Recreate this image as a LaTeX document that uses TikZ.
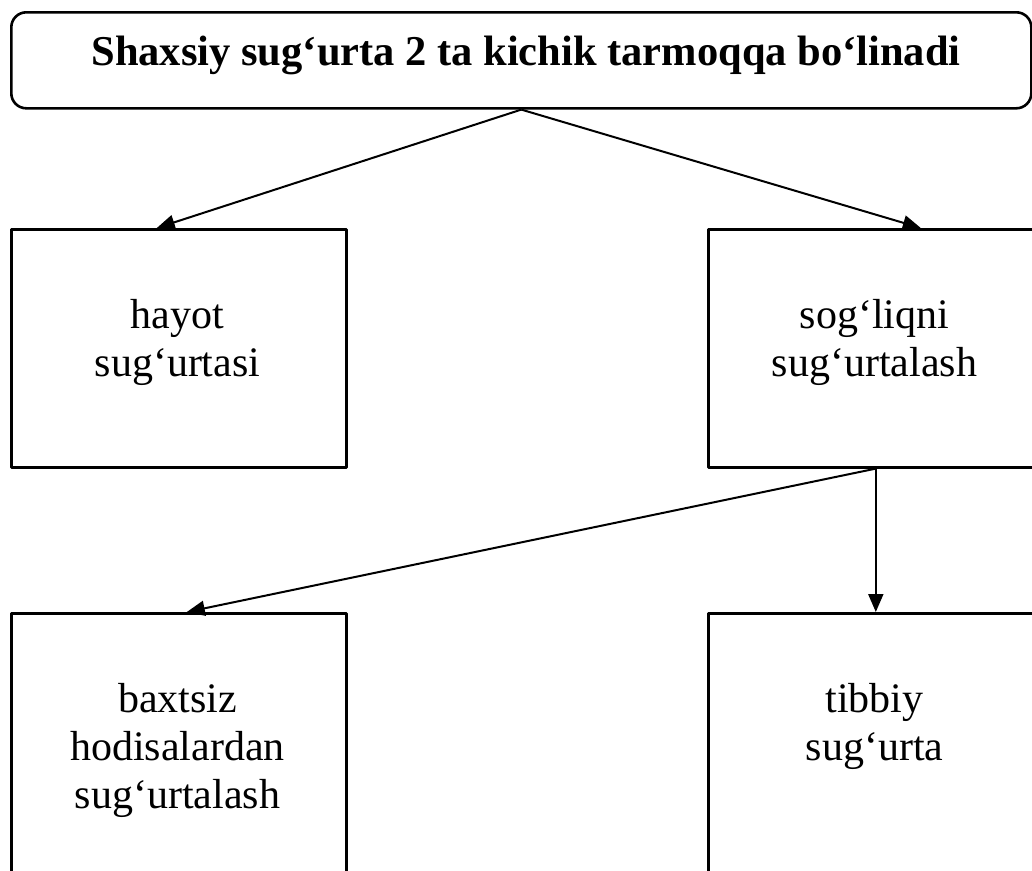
\documentclass[tikz,border=0pt]{standalone}
\usepackage{fontspec}
\setmainfont{Liberation Serif}
\usetikzlibrary{arrows.meta}

\begin{document}
\begin{tikzpicture}[x=1pt,y=-1pt,line join=round,
    frame/.style={draw,line width=2.6pt,minimum width=335pt,inner sep=0pt,anchor=north west},
    caption/.style={align=center,inner sep=0pt,anchor=base,font=\fontsize{42}{48}\selectfont},
    link/.style={line width=2pt,-{Triangle[length=18pt,width=15pt]}}]
  % Keep the page at the size of the original scan.
  \useasboundingbox (0,0) rectangle (1032,870);

  % Heading box with rounded corners.
  \node[frame,rounded corners=15pt,minimum width=1020pt,minimum height=96pt] (head) at (10,11) {};
  \node[caption,font=\fontsize{42.5}{48}\selectfont\bfseries] (headtext) at (526,65) {Shaxsiy sug‘urta 2 ta kichik tarmoqqa bo‘linadi};

  % First level, both boxes share the same size.
  % (base anchor of a multi-line caption is its last line)
  \node[frame,minimum height=238pt] (life) at (10,228) {};
  \node[frame,minimum height=238pt] (health) at (707,228) {};
  \node[caption] (lifetext) at (177.5,376) {hayot\\sug‘urtasi};
  \node[caption] (healthtext) at (874.5,376) {sog‘liqni\\sug‘urtalash};

  % Second level, cut off by the lower page edge.
  \node[frame,minimum height=300pt] (accident) at (10,612) {};
  \node[frame,minimum height=300pt] (medical) at (707,612) {};
  \node[caption] (accidenttext) at (177.5,808) {baxtsiz\\hodisalardan\\sug‘urtalash};
  \node[caption] (medicaltext) at (874.5,760) {tibbiy\\sug‘urta};

  % Arrows go on top of the frames.
  \draw[link] (head.south) -- ([xshift=-22pt]life.north);
  \draw[link] (head.south) -- ([xshift=45pt]health.north);
  \draw[link] (health.south) -- ([xshift=8pt]accident.north);
  \draw[link] (health.south) -- (medical.north);
\end{tikzpicture}
\end{document}
